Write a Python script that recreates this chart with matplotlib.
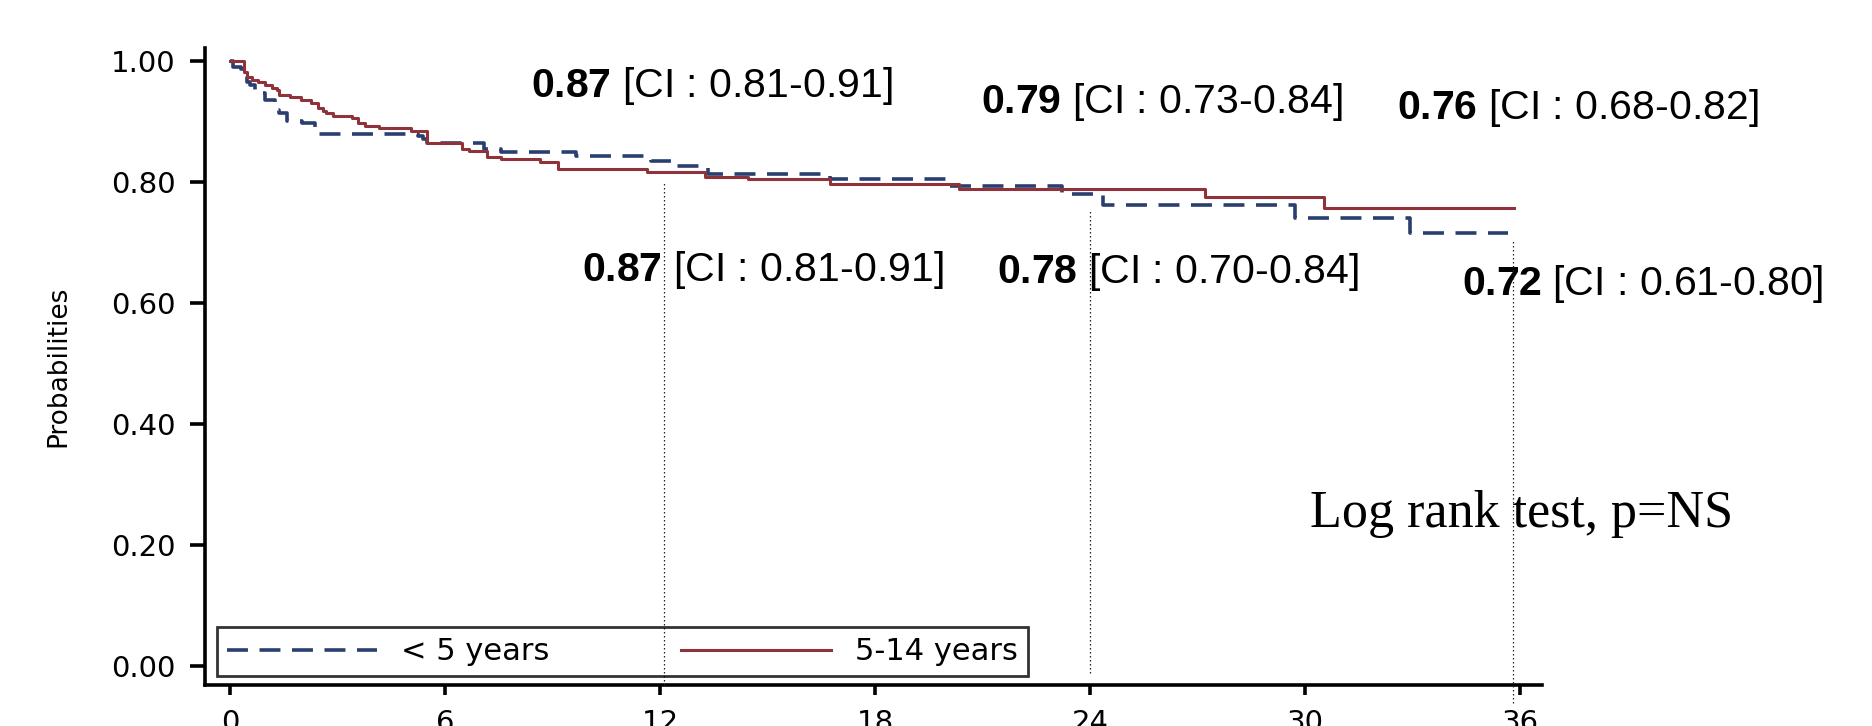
import matplotlib
matplotlib.use('agg')
import matplotlib.pyplot as plt

# Kaplan-Meier steps (months, survival probability)
young_t = [0, 0.09, 0.31, 0.48, 0.56, 0.70, 0.98, 1.26, 1.37, 1.58, 2.02, 2.37, 2.45,
           5.25, 5.39, 5.48, 7.09, 7.57, 9.65, 11.74, 12.42, 13.33, 16.73, 19.97,
           23.22, 24.34, 29.71, 32.91, 35.66]
young_s = [1.0, 0.990, 0.986, 0.966, 0.961, 0.948, 0.936, 0.919, 0.914, 0.901, 0.897, 0.885, 0.880,
           0.876, 0.871, 0.864, 0.855, 0.850, 0.843, 0.835, 0.826, 0.813, 0.805, 0.793,
           0.780, 0.763, 0.741, 0.716, 0.716]

older_t = [0, 0.40, 0.48, 0.61, 0.77, 0.98, 1.18, 1.30, 1.37, 1.67, 1.98, 2.26, 2.46, 2.58,
           2.68, 2.88, 3.39, 3.58, 3.77, 4.16, 5.05, 5.48, 6.46, 6.67, 7.17, 7.57, 8.65,
           9.16, 11.63, 13.26, 14.44, 16.73, 20.33, 27.20, 30.51, 35.82]
older_s = [1.0, 0.982, 0.973, 0.968, 0.965, 0.960, 0.956, 0.952, 0.944, 0.940, 0.936, 0.931, 0.923, 0.918,
           0.914, 0.909, 0.906, 0.897, 0.893, 0.889, 0.885, 0.864, 0.855, 0.851, 0.842, 0.838, 0.834,
           0.821, 0.817, 0.809, 0.805, 0.797, 0.788, 0.775, 0.758, 0.758]

group_labels = ['< 5 years', '5-14 years']

# landmark times and where the dotted drop lines stop
landmark_x = [12.1, 24.0, 35.8]
landmark_top = [0.80, 0.754, 0.702]
landmark_bottom = [-0.03, -0.01, -0.06]

# survival estimates at 12/24/36 months: upper row 5-14 years, lower row < 5 years
est_values = ['0.87', '0.79', '0.76', '0.87', '0.78', '0.72']
est_ci = ['0.81-0.91', '0.73-0.84', '0.68-0.82', '0.81-0.91', '0.70-0.84', '0.61-0.80']

x_ticks = [0, 6, 12, 18, 24, 30, 36]
y_ticks = [0.0, 0.2, 0.4, 0.6, 0.8, 1.0]

BLUE = '#2a3f70'
RED = '#8f323a'

plt.rcParams['mathtext.fontset'] = 'custom'
plt.rcParams['mathtext.rm'] = 'Liberation Sans'
plt.rcParams['mathtext.bf'] = 'Liberation Sans:bold'

fig = plt.figure(figsize=(18.72, 7.26), dpi=100)
ax = fig.add_axes([0.1095, 0.0565, 0.7142, 0.8778])

ax.step(young_t, young_s, where='post', color=BLUE, lw=2.6, dashes=(5.8, 3.2), label=group_labels[0])
ax.step(older_t, older_s, where='post', color=RED, lw=2.2, label=group_labels[1])

for x, top, bot in zip(landmark_x, landmark_top, landmark_bottom):
    ax.plot([x, x], [bot, top], color='#222222', lw=0.9, dashes=(1.2, 2.0), clip_on=False, zorder=5)

# text positions (data coords of the left edge / baseline)
text_pos = [(8.40, 0.941), (20.95, 0.914), (32.55, 0.9035),
            (9.82, 0.6367), (21.39, 0.633), (34.37, 0.6135)]
for (x, y), v, ci in zip(text_pos, est_values, est_ci):
    ax.text(x, y, r'$\mathbf{%s}$ [CI : %s]' % (v, ci), family='Liberation Sans',
            fontsize=29.5, ha='left', va='baseline')

ax.text(30.12, 0.2304, 'Log rank test, p=NS', family='Liberation Serif',
        fontsize=37.5, ha='left', va='baseline')

ax.set_xlim(-0.70, 36.60)
ax.set_ylim(-0.0306, 1.022)
ax.set_xticks(x_ticks)
ax.set_xticklabels([str(t) for t in x_ticks])
ax.set_yticks(y_ticks)
ax.set_yticklabels(['%.2f' % t for t in y_ticks])

for s in ['top', 'right']:
    ax.spines[s].set_visible(False)
for s in ['left', 'bottom']:
    ax.spines[s].set_linewidth(2.6)

ax.tick_params(axis='y', length=10.8, width=2.6, pad=10.5, labelsize=21)
ax.tick_params(axis='x', length=7, width=2.6, pad=10, labelsize=21)
for lab in ax.get_xticklabels() + ax.get_yticklabels():
    lab.set_family('DejaVu Sans')

ax.set_ylabel('Probabilities', fontsize=19, family='DejaVu Sans')
ax.yaxis.set_label_coords(-0.100, 0.5)

leg = ax.legend(loc='lower left', bbox_to_anchor=(0.009, 0.0141, 0.6065, 0.0863), mode='expand',
                ncol=2, handlelength=4.9, handletextpad=0.8, borderpad=0.32,
                borderaxespad=0, fancybox=False, prop={'family': 'DejaVu Sans', 'size': 22})
leg.get_frame().set_edgecolor('black')
leg.get_frame().set_linewidth(2.0)
leg.get_frame().set_facecolor('none')

plt.savefig('out.png', dpi=100)
